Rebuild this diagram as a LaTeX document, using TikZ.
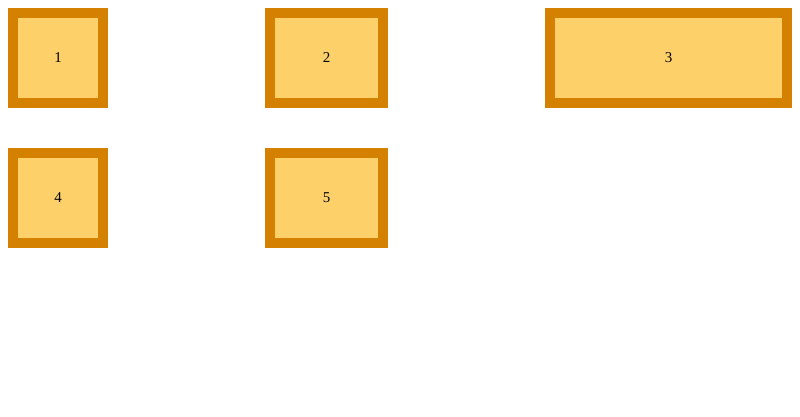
\documentclass[tikz,border=0pt]{standalone}
\usepackage{fontspec}
\setmainfont{Liberation Serif}
\definecolor{boxborder}{RGB}{212,128,0}
\definecolor{boxfill}{RGB}{253,208,106}
\begin{document}
\begin{tikzpicture}[x=1pt,y=-1pt,
  box/.style={draw=boxborder,fill=boxfill,line width=10pt,rectangle,inner sep=0pt,
    font=\fontsize{15}{18}\selectfont},
]
\useasboundingbox (0,0) rectangle (800,416);
\node[box,minimum width=90pt,minimum height=90pt] (n1) at (58,58) {1};
\node[box,minimum width=113pt,minimum height=90pt] (n2) at (326.5,58) {2};
\node[box,minimum width=237pt,minimum height=90pt] (n3) at (668.5,58) {3};
\node[box,minimum width=90pt,minimum height=90pt] (n4) at (58,198) {4};
\node[box,minimum width=113pt,minimum height=90pt] (n5) at (326.5,198) {5};
\end{tikzpicture}
\end{document}
